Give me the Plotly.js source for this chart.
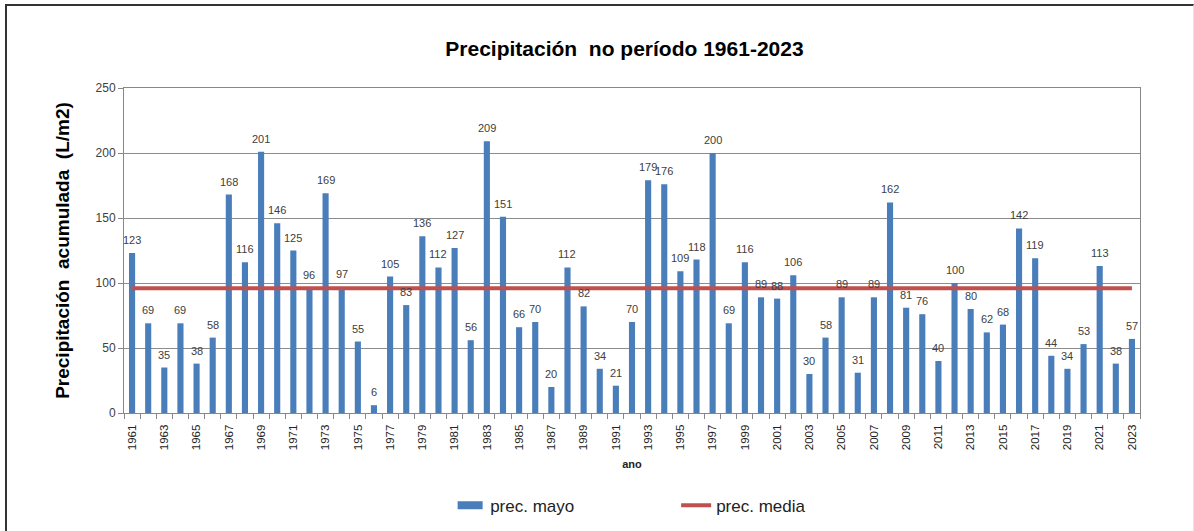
<!DOCTYPE html>
<html>
<head>
<meta charset="utf-8">
<script src="https://cdn.plot.ly/plotly-3.0.1.min.js"></script>
<style>
html,body{margin:0;padding:0;background:#fff;}
#frame{position:absolute;left:5px;top:4px;width:1186px;height:540px;border-left:2px solid #333;border-top:2px solid #333;border-right:1px solid #e4e4e4;pointer-events:none;z-index:10;}
#chart{width:1194px;height:531px;}
</style>
</head>
<body>
<div id="frame"></div>
<div id="chart"></div>
<script>
const years = [1961,1962,1963,1964,1965,1966,1967,1968,1969,1970,1971,1972,1973,1974,1975,1976,1977,1978,1979,1980,1981,1982,1983,1984,1985,1986,1987,1988,1989,1990,1991,1992,1993,1994,1995,1996,1997,1998,1999,2000,2001,2002,2003,2004,2005,2006,2007,2008,2009,2010,2011,2012,2013,2014,2015,2016,2017,2018,2019,2020,2021,2022,2023];
const precMayo = [123,69,35,69,38,58,168,116,201,146,125,96,169,97,55,6,105,83,136,112,127,56,209,151,66,70,20,112,82,34,21,70,179,176,109,118,200,69,116,89,88,106,30,58,89,31,89,162,81,76,40,100,80,62,68,142,119,44,34,53,113,38,57];
const precMedia = 96;
const tickYears = years.filter(y => y % 2 === 1);
const tickLabels = tickYears.map(String);
const yTicks = [0,50,100,150,200,250];

const font = "Liberation Sans, Arial, sans-serif";

const traces = [
  {
    type: 'bar',
    name: 'prec. mayo',
    x: years,
    y: precMayo,
    marker: {color: '#4a7ebb'},
    hoverinfo: 'x+y'
  },
  {
    type: 'scatter',
    mode: 'lines',
    name: 'prec. media',
    x: years,
    y: years.map(() => precMedia),
    line: {color: '#c0504d', width: 4}
  }
];

const labels = years.map((yr, i) => ({
  x: yr, y: precMayo[i], xref: 'x', yref: 'y',
  text: String(precMayo[i]),
  showarrow: false,
  yanchor: 'bottom', xanchor: 'center',
  yshift: 5,
  font: {family: font, size: 11, color: '#404040'}
}));

const layout = {
  width: 1194,
  height: 531,
  margin: {l: 124, r: 54, t: 88, b: 118, autoexpand: false},
  paper_bgcolor: '#fff',
  plot_bgcolor: '#fff',
  bargap: 0.62,
  showlegend: true,
  title: {
    text: 'Precipitación  no período 1961-2023',
    font: {family: font, size: 21, color: '#000', weight: 'bold'},
    x: 0.523, xanchor: 'center', y: 0.909, yanchor: 'middle', xref: 'container'
  },
  font: {family: font, color: '#404040', size: 11},
  annotations: labels,
  xaxis: {
    type: 'linear',
    range: [1960.5, 2023.5],
    tickvals: tickYears,
    ticktext: tickLabels,
    tickangle: -90,
    ticks: '',
    ticklabelstandoff: 6,
    tickfont: {family: font, size: 11.5, color: '#222'},
    showgrid: false,
    zeroline: false,
    showline: true,
    linecolor: '#888',
    linewidth: 1,
    mirror: true,
    automargin: false,
    minor: {tick0: 1960.5, dtick: 1, ticks: 'outside', ticklen: 5, tickcolor: '#888', showgrid: false},
    title: {text: 'ano', font: {family: font, size: 11, color: '#222', weight: 'bold'}, standoff: 11}
  },
  yaxis: {
    range: [0, 250],
    tickvals: yTicks,
    ticks: 'outside',
    ticklen: 5,
    tickcolor: '#888',
    tickfont: {family: font, size: 12, color: '#404040'},
    showgrid: true,
    gridcolor: '#8c8c8c',
    gridwidth: 1,
    zeroline: false,
    showline: true,
    linecolor: '#888',
    linewidth: 1,
    mirror: true,
    automargin: false,
    title: {text: 'Precipitación  acumulada  (L/m2)', font: {family: font, size: 19, color: '#000', weight: 'bold'}, standoff: 20}
  },
  legend: {
    orientation: 'h',
    x: 0.321, xanchor: 'left',
    y: -0.285, yanchor: 'middle',
    font: {family: font, size: 17, color: '#222'},
    entrywidth: 181,
    entrywidthmode: 'pixels',
    tracegroupgap: 0
  }
};

Plotly.newPlot('chart', traces, layout, {displayModeBar: false, staticPlot: true}).then(gd => {
  const pts = gd.querySelectorAll('.legend .traces');
  if (pts.length) {
    const p = pts[0].querySelector('.legendpoints path');
    if (p) p.setAttribute('d', 'M12.5,4H-12.5V-4H12.5Z');
  }
});
</script>
</body>
</html>
